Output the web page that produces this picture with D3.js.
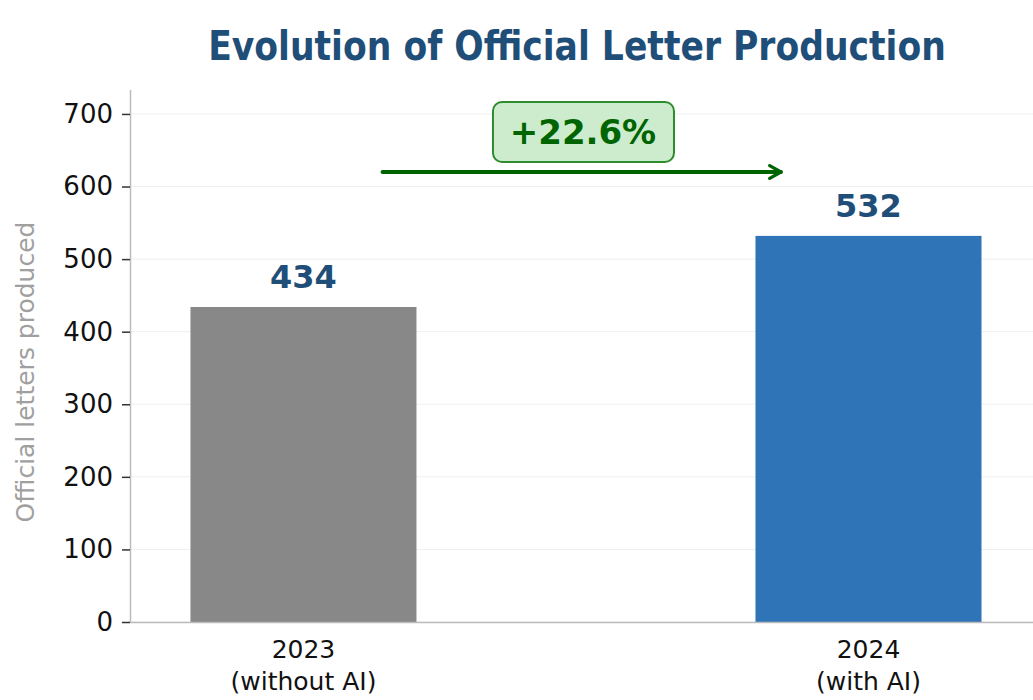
<!DOCTYPE html>
<html>
<head>
<meta charset="utf-8">
<script src="https://cdn.jsdelivr.net/npm/d3@7"></script>
<style>
  body { margin: 0; background: #fff; }
  text { font-family: "DejaVu Sans", sans-serif; }
</style>
</head>
<body>
<svg id="chart" width="1033" height="700"></svg>
<script>
// chart data
const years = ['2023', '2024'];
const subLabels = ['(without AI)', '(with AI)'];
const letters = [434, 532];
const yTicks = [0, 100, 200, 300, 400, 500, 600, 700];
const barColors = ['#888888', '#2e74b6'];

const svg = d3.select('#chart');
const plotL = 130, plotR = 1033, plotT = 90, plotB = 622;

// growth between the two years
const growth = (letters[1] - letters[0]) / letters[0] * 100;

// scales
let x = d3.scaleLinear().domain([-0.307, 1.277]).range([plotL, 1025]);
let y = d3.scaleLinear().domain([0, 733]).range([plotB, plotT]);
const barW = x(0.4) - x(0);

// light grid
svg.append('g')
  .selectAll('line')
  .data(yTicks)
  .join('line')
  .attr('x1', plotL).attr('x2', plotR)
  .attr('y1', d => y(d)).attr('y2', d => y(d))
  .style('stroke', '#efefef')
  .style('stroke-width', 1);

// bars
svg.append('g')
  .selectAll('rect')
  .data(letters)
  .join('rect')
  .attr('x', (d, i) => x(i) - barW / 2)
  .attr('y', d => y(d))
  .attr('width', barW)
  .attr('height', d => y(0) - y(d))
  .style('fill', (d, i) => barColors[i]);

// value labels
svg.append('g')
  .selectAll('text')
  .data(letters)
  .join('text')
  .attr('x', (d, i) => x(i))
  .attr('y', d => y(d) - 19)
  .attr('text-anchor', 'middle')
  .style('font-size', '32px')
  .style('font-weight', 'bold')
  .style('fill', '#1f4e79')
  .text(d => d);

// y axis
let yAxis = svg.append('g')
  .attr('transform', 'translate(' + plotL + ',0)')
  .call(d3.axisLeft(y).tickValues(yTicks).tickSize(8).tickPadding(9));
yAxis.select('.domain').style('stroke', '#bbbbbb').style('stroke-width', 1.5)
  .attr('d', 'M0.5,' + plotT + 'V' + plotB);
yAxis.selectAll('.tick line').style('stroke', '#333').style('stroke-width', 1.5);
yAxis.selectAll('.tick text')
  .style('font-size', '26px')
  .style('font-family', '"DejaVu Sans", sans-serif')
  .style('fill', '#111');

// x axis line
svg.append('line')
  .attr('x1', plotL).attr('x2', plotR)
  .attr('y1', plotB + 0.5).attr('y2', plotB + 0.5)
  .style('stroke', '#bbbbbb')
  .style('stroke-width', 1.5);

// x labels, two lines each
let xl = svg.append('g')
  .selectAll('text')
  .data(years)
  .join('text')
  .attr('x', (d, i) => x(i))
  .attr('y', 658)
  .attr('text-anchor', 'middle')
  .style('font-size', '25px')
  .style('fill', '#111');
xl.append('tspan').text(d => d);
xl.append('tspan')
  .attr('x', (d, i) => x(i))
  .attr('dy', 32)
  .text((d, i) => subLabels[i]);

// y axis title
svg.append('text')
  .attr('transform', 'translate(34,372) rotate(-90)')
  .attr('text-anchor', 'middle')
  .style('font-size', '25px')
  .style('fill', '#a0a0a0')
  .text('Official letters produced');

// title, squeezed to the reference width
let title = svg.append('text')
  .attr('text-anchor', 'middle')
  .style('font-size', '41px')
  .style('font-weight', 'bold')
  .style('fill', '#1f4e79')
  .text('Evolution of Official Letter Production');
let tw = title.node().getComputedTextLength();
title.attr('transform', 'translate(577,60) scale(' + (738 / tw) + ',1)');

// growth arrow
svg.append('defs').append('marker')
  .attr('id', 'head')
  .attr('viewBox', '0 0 10 10')
  .attr('refX', 8).attr('refY', 5)
  .attr('markerWidth', 4).attr('markerHeight', 4)
  .attr('orient', 'auto')
  .append('path')
  .attr('d', 'M1,1 L8,5 L1,9')
  .style('fill', 'none')
  .style('stroke', '#006400')
  .style('stroke-width', 2)
  .style('stroke-linecap', 'round')
  .style('stroke-linejoin', 'round');

svg.append('line')
  .attr('x1', x(0.14)).attr('x2', x(0.845))
  .attr('y1', y(620)).attr('y2', y(620))
  .style('stroke', '#006400')
  .style('stroke-width', 4)
  .style('stroke-linecap', 'round')
  .attr('marker-end', 'url(#head)');

// growth label box
let gx = x(0.5) - 3;
svg.append('rect')
  .attr('x', gx - 90).attr('y', 102)
  .attr('width', 181).attr('height', 60)
  .attr('rx', 9)
  .style('fill', '#cdeccd')
  .style('stroke', '#2e8b2e')
  .style('stroke-width', 2);
svg.append('text')
  .attr('x', gx)
  .attr('y', 144)
  .attr('text-anchor', 'middle')
  .style('font-size', '34px')
  .style('font-weight', 'bold')
  .style('fill', '#006400')
  .text('+' + growth.toFixed(1) + '%');
</script>
</body>
</html>
